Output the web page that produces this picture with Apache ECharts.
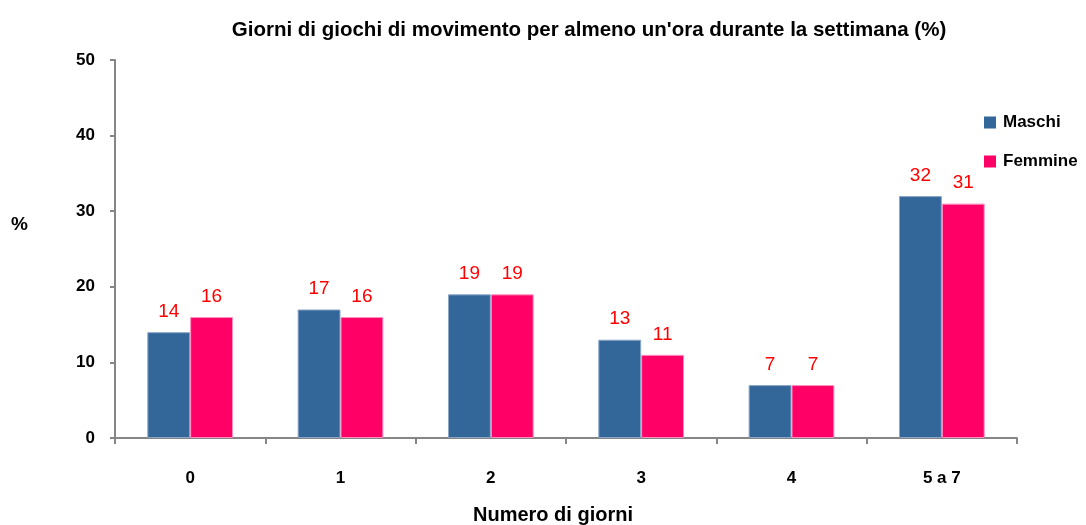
<!DOCTYPE html>
<html lang="it">
<head>
    <meta http-equiv="Content-Type" content="text/html;charset=utf-8">
    <script type="text/javascript" src="https://cdn.jsdelivr.net/npm/echarts@6/dist/echarts.min.js"></script>
    <title>Giorni di giochi di movimento</title>
    <style>
        html, body { margin: 0; padding: 0; background: #fff; }
        #main { width: 1086px; height: 525px; }
    </style>
</head>
<body>
<div id="main"></div>
<script>
    var categories = ['0', '1', '2', '3', '4', '5 a 7'];
    var maschi = [14, 17, 19, 13, 7, 32];
    var femmine = [16, 16, 19, 11, 7, 31];
    var yTicks = [0, 10, 20, 30, 40, 50];

    var fontFam = '"Liberation Sans", Arial, sans-serif';
    var axisGrey = '#868686';

    function draw() {
        var myChart = echarts.init(document.getElementById('main'));

        var labelStyle = {
            show: true,
            position: 'top',
            distance: 11,
            color: '#ff0000',
            fontSize: 19,
            fontFamily: fontFam
        };

        var option = {
            animation: false,
            backgroundColor: '#ffffff',
            color: ['#336699', '#ff0066'],
            title: {
                text: "Giorni di giochi di movimento per almeno un'ora durante la settimana (%)",
                left: 584,
                top: 15,
                textAlign: 'center',
                textStyle: {
                    fontSize: 20.5,
                    fontWeight: 'bold',
                    color: '#000',
                    fontFamily: fontFam
                }
            },
            legend: {
                orient: 'vertical',
                left: 984,
                top: 114,
                padding: 0,
                itemWidth: 12,
                itemHeight: 12,
                itemGap: 22,
                icon: 'rect',
                itemStyle: { borderWidth: 0 },
                textStyle: {
                    fontSize: 17,
                    fontWeight: 'bold',
                    color: '#000',
                    fontFamily: fontFam,
                    padding: [0, 0, 0, 2]
                },
                data: ['Maschi', 'Femmine']
            },
            grid: {
                left: 115,
                right: 69,
                top: 60,
                bottom: 87,
                containLabel: false,
                outerBoundsMode: 'none'
            },
            xAxis: {
                type: 'category',
                data: categories,
                name: 'Numero di giorni',
                nameLocation: 'middle',
                nameGap: 67,
                nameTextStyle: {
                    fontSize: 20,
                    fontWeight: 'bold',
                    color: '#000',
                    fontFamily: fontFam,
                    padding: [0, 26, 0, 0]
                },
                axisLine: { lineStyle: { color: axisGrey, width: 2 } },
                axisTick: { show: true, length: 6, lineStyle: { color: axisGrey, width: 2 } },
                axisLabel: {
                    margin: 32,
                    fontSize: 17,
                    fontWeight: 'bold',
                    color: '#000',
                    fontFamily: fontFam
                }
            },
            yAxis: {
                type: 'value',
                min: yTicks[0],
                max: yTicks[yTicks.length - 1],
                interval: 10,
                name: '{p|%}',
                nameLocation: 'middle',
                nameRotate: 0,
                nameGap: 87,
                nameTextStyle: {
                    fontSize: 19,
                    fontWeight: 'bold',
                    color: '#000',
                    fontFamily: fontFam,
                    rich: {
                        p: {
                            fontSize: 19,
                            fontWeight: 'bold',
                            color: '#000',
                            fontFamily: fontFam,
                            padding: [0, 0, 48, 0]
                        }
                    }
                },
                axisLine: { show: true, lineStyle: { color: axisGrey, width: 2 } },
                axisTick: { show: true, length: 5, lineStyle: { color: axisGrey, width: 2 } },
                splitLine: { show: false },
                axisLabel: {
                    margin: 20,
                    fontSize: 17,
                    fontWeight: 'bold',
                    color: '#000',
                    fontFamily: fontFam
                }
            },
            series: [
                {
                    name: 'Maschi',
                    type: 'bar',
                    data: maschi,
                    barGap: '0%',
                    barCategoryGap: '43%',
                    itemStyle: { borderColor: '#8aa6c8', borderWidth: 1 },
                    label: labelStyle
                },
                {
                    name: 'Femmine',
                    type: 'bar',
                    data: femmine,
                    barGap: '0%',
                    barCategoryGap: '43%',
                    itemStyle: { borderColor: '#ff8fbd', borderWidth: 1 },
                    label: labelStyle
                }
            ]
        };
        myChart.setOption(option);
    }

    draw();
</script>
</body>
</html>
